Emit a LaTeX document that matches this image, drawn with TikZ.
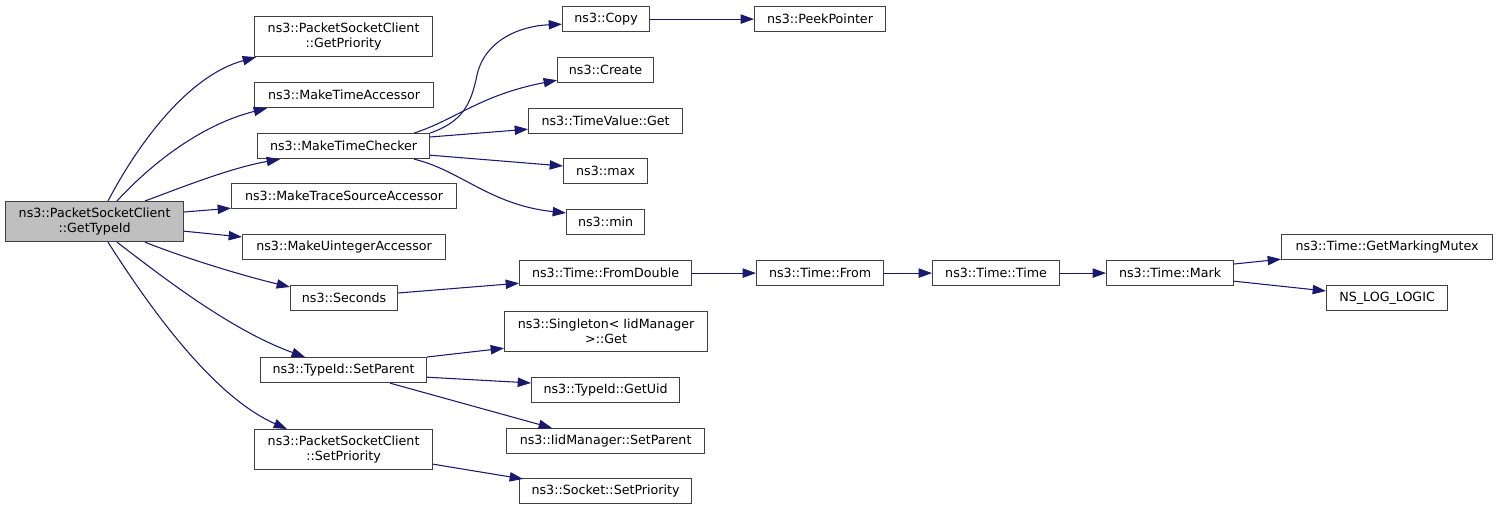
\documentclass[tikz,border=0pt]{standalone}
\usepackage{fontspec}
\setmainfont{DejaVu Sans}
\usetikzlibrary{arrows.meta}
\definecolor{edgeblue}{HTML}{191970}
\definecolor{boxline}{HTML}{404040}
\definecolor{rootfill}{HTML}{BFBFBF}
\tikzset{
  gnode/.style={draw=boxline,line width=0.9pt,fill=white,inner sep=0pt,align=center,
    font=\fontsize{9.5}{11.25}\selectfont,text=black},
  call/.style={draw=edgeblue,line width=0.8pt,-{Triangle[length=10pt,width=7pt]},edgeblue}
}
\newcommand\gbox[6][]{%
  \pgfmathsetmacro\gw{(#4-#2)*0.75}%
  \pgfmathsetmacro\gh{(#5-#3)*0.75}%
  \node[gnode,#1,minimum width=\gw pt,minimum height=\gh pt,anchor=north west] (#6) at (#2,#3)}
\begin{document}
\begin{tikzpicture}[x=0.75pt,y=-0.75pt]
\useasboundingbox (0,0) rectangle (1497,509);
% nodes
\gbox[fill=rootfill]{5}{201}{183}{241}{root} {ns3::PacketSocketClient\\::GetTypeId};
\gbox{254}{16}{432}{56}{getprio} {ns3::PacketSocketClient\\::GetPriority};
\gbox{254}{82}{433}{107}{mta} {ns3::MakeTimeAccessor};
\gbox{257}{133}{429}{158}{mtc} {ns3::MakeTimeChecker};
\gbox{231}{183}{456}{208}{mtsa} {ns3::MakeTraceSourceAccessor};
\gbox{242}{234}{445}{259}{mua} {ns3::MakeUintegerAccessor};
\gbox{290}{285}{397}{310}{sec} {ns3::Seconds};
\gbox{260}{357}{426}{382}{tsp} {ns3::TypeId::SetParent};
\gbox{254}{429}{432}{469}{setprio} {ns3::PacketSocketClient\\::SetPriority};
\gbox{562}{6}{649}{31}{copy} {ns3::Copy};
\gbox{754}{6}{885}{31}{peek} {ns3::PeekPointer};
\gbox{557}{57}{653}{82}{create} {ns3::Create};
\gbox{528}{108}{682}{133}{tvget} {ns3::TimeValue::Get};
\gbox{563}{158}{647}{183}{max} {ns3::max};
\gbox{566}{209}{644}{234}{min} {ns3::min};
\gbox{519}{260}{691}{285}{fromd} {ns3::Time::FromDouble};
\gbox{756}{260}{883}{285}{from} {ns3::Time::From};
\gbox{932}{260}{1059}{285}{time} {ns3::Time::Time};
\gbox{1106}{260}{1233}{285}{mark} {ns3::Time::Mark};
\gbox{1281}{234}{1492}{259}{gmm} {ns3::Time::GetMarkingMutex};
\gbox{1326}{285}{1447}{310}{nll} {NS\_LOG\_LOGIC};
\gbox{504}{311}{707}{351}{single} {ns3::Singleton< IidManager\\>::Get};
\gbox{531}{377}{679}{402}{getuid} {ns3::TypeId::GetUid};
\gbox{506}{428}{704}{453}{iidsp} {ns3::IidManager::SetParent};
\gbox{519}{478}{691}{503}{sockprio} {ns3::Socket::SetPriority};
% edges from root
\draw[call] ([shift={(103,0)}]root.north west) .. controls (140,140) and (190,75) .. ([shift={(2,0)}]getprio.south west);
\draw[call] ([shift={(112,0)}]root.north west) .. controls (150,165) and (200,125) .. ([shift={(13,0)}]mta.south west);
\draw[call] ([shift={(140,0)}]root.north west) .. controls (180,188) and (230,168) .. ([shift={(23,0)}]mtc.south west);
\draw[call] ([shift={(0,11)}]root.north east) -- ([shift={(0,-1)}]mtsa.south west);
\draw[call] ([shift={(0,-11)}]root.south east) -- ([shift={(0,3)}]mua.north west);
\draw[call] ([shift={(140,0)}]root.south west) .. controls (185,258) and (240,275) .. ([shift={(0,2)}]sec.north west);
\draw[call] ([shift={(112,0)}]root.south west) .. controls (160,275) and (230,330) .. ([shift={(45,0)}]tsp.north west);
\draw[call] ([shift={(103,0)}]root.south west) .. controls (145,300) and (210,395) .. ([shift={(33,0)}]setprio.north west);
% MakeTimeChecker
\draw[call] (mtc.north east) .. controls (462,122) and (471,105) .. (477,75) .. controls (485,40) and (520,26) .. ([shift={(0,-8)}]copy.south west);
\draw[call] ([shift={(-16,0)}]mtc.north east) .. controls (455,120) and (480,95) .. ([shift={(0,-3)}]create.south west);
\draw[call] ([shift={(0,4)}]mtc.north east) -- ([shift={(0,-5)}]tvget.south west);
\draw[call] ([shift={(0,-4)}]mtc.south east) -- ([shift={(0,8)}]max.north west);
\draw[call] ([shift={(-16,0)}]mtc.south east) .. controls (460,170) and (490,205) .. ([shift={(0,4)}]min.north west);
\draw[call] (copy.east) -- (peek.west);
% Seconds chain
\draw[call] ([shift={(0,8)}]sec.north east) -- ([shift={(0,-3)}]fromd.south west);
\draw[call] (fromd.east) -- (from.west);
\draw[call] (from.east) -- (time.west);
\draw[call] (time.east) -- (mark.west);
\draw[call] ([shift={(0,4)}]mark.north east) -- ([shift={(0,-1)}]gmm.south west);
\draw[call] ([shift={(0,-5)}]mark.south east) -- ([shift={(0,6)}]nll.north west);
% SetParent
\draw[call] (tsp.north east) -- ([shift={(0,-4)}]single.south west);
\draw[call] ([shift={(0,-6)}]tsp.south east) -- ([shift={(0,6)}]getuid.north west);
\draw[call] ([shift={(-37,0)}]tsp.south east) -- ([shift={(46,0)}]iidsp.north west);
% SetPriority
\draw[call] ([shift={(0,-6)}]setprio.south east) -- ([shift={(4,1)}]sockprio.north west);
\end{tikzpicture}
\end{document}
